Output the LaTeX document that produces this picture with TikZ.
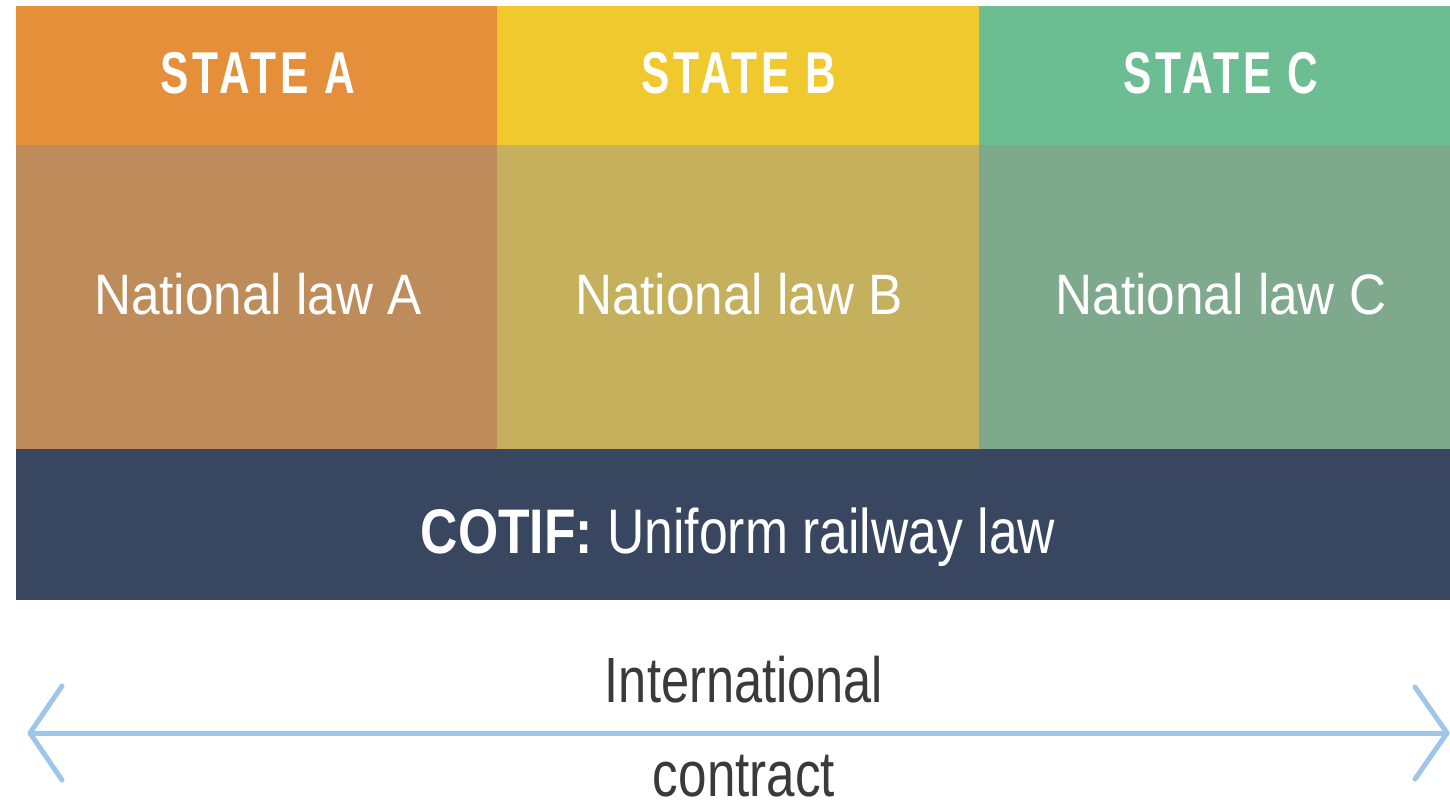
\documentclass[tikz,border=0pt]{standalone}
\usepackage{fontspec}
\usepackage{graphicx}
\setmainfont{Liberation Sans}
\newfontfamily\statefont[LetterSpace=9]{Liberation Sans}
\definecolor{hdA}{HTML}{E58F3A}
\definecolor{hdB}{HTML}{F0C92E}
\definecolor{hdC}{HTML}{6DBD92}
\definecolor{mdA}{HTML}{BE8C5A}
\definecolor{mdB}{HTML}{C5B05E}
\definecolor{mdC}{HTML}{7FA98C}
\definecolor{navy}{HTML}{38465F}
\definecolor{arrowblue}{HTML}{9DC6EA}
\definecolor{txtgray}{HTML}{3A3A3A}
\tikzset{
  cell/.style={draw=none, inner sep=0pt, outer sep=0pt, anchor=north west},
  hdlabel/.style={text=white, anchor=base, inner sep=0pt, font=\statefont\fontsize{59}{59}\selectfont\bfseries},
  mdlabel/.style={text=white, anchor=base, inner sep=0pt, font=\fontsize{57}{57}\selectfont},
  btlabel/.style={text=txtgray, anchor=base, inner sep=0pt, font=\fontsize{64}{64}\selectfont},
  arrowline/.style={draw=arrowblue, line width=5pt, line cap=round, line join=round}
}
\begin{document}
\begin{tikzpicture}[x=1pt,y=-1pt]
\useasboundingbox (0,0) rectangle (1450,804);
\fill[white] (0,0) rectangle (1450,804);
% header row
\node[cell, fill=hdA, minimum width=481pt, minimum height=139pt] (hA) at (16,6) {};
\node[cell, fill=hdB, minimum width=482pt, minimum height=139pt] (hB) at (497,6) {};
\node[cell, fill=hdC, minimum width=471pt, minimum height=139pt] (hC) at (979,6) {};
% middle row
\node[cell, fill=mdA, minimum width=481pt, minimum height=304pt] (mA) at (16,145) {};
\node[cell, fill=mdB, minimum width=482pt, minimum height=304pt] (mB) at (497,145) {};
\node[cell, fill=mdC, minimum width=471pt, minimum height=304pt] (mC) at (979,145) {};
% navy band
\node[cell, fill=navy, minimum width=1434pt, minimum height=151pt] (cotif) at (16,449) {};
% labels
\node[hdlabel] (tA) at (258,93) {\scalebox{0.72}[1]{STATE A}};
\node[hdlabel] (tB) at (739,93) {\scalebox{0.72}[1]{STATE B}};
\node[hdlabel] (tC) at (1221,93) {\scalebox{0.72}[1]{STATE C}};
\node[mdlabel] (nA) at (258,314) {\scalebox{0.90}[1]{National law A}};
\node[mdlabel] (nB) at (739,314) {\scalebox{0.90}[1]{National law B}};
\node[mdlabel] (nC) at (1221,314) {\scalebox{0.90}[1]{National law C}};
\node[text=white, anchor=base, inner sep=0pt, font=\fontsize{63}{63}\selectfont] (cl) at (738,553) {\scalebox{0.82}[1]{\textbf{COTIF:} Uniform railway law}};
\node[btlabel] (intl) at (744,702) {\scalebox{0.79}[1]{International}};
\node[btlabel] (ctr) at (744,796) {\scalebox{0.80}[1]{contract}};
% arrow
\coordinate (L) at (30,733);
\coordinate (R) at (1447,733);
\draw[arrowline] (L) -- (R);
\draw[arrowline] ([shift={(32,-47)}]L) -- (L) -- ([shift={(32,47)}]L);
\draw[arrowline] ([shift={(-32,-46)}]R) -- (R) -- ([shift={(-32,46)}]R);
\end{tikzpicture}
\end{document}
